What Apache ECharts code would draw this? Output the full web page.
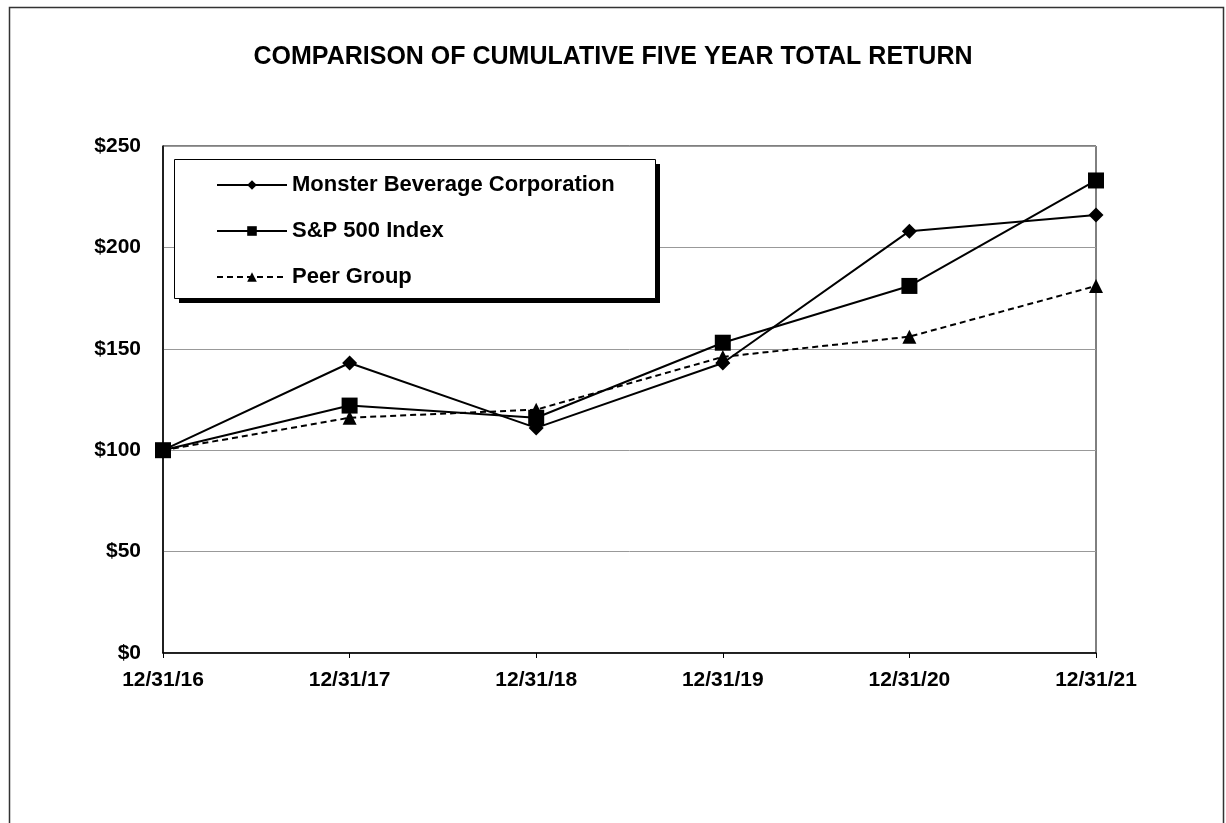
<!DOCTYPE html>
<html>
<head>
<meta charset="utf-8">
<script src="https://cdn.jsdelivr.net/npm/echarts@6/dist/echarts.min.js"></script>
<style>html,body{margin:0;padding:0;background:#fff;}#c{width:1226px;height:823px;}</style>
</head>
<body>
<div id="c"></div>
<script>
const categories = ['12/31/16','12/31/17','12/31/18','12/31/19','12/31/20','12/31/21'];
const monster = [100, 143, 111, 143, 208, 216];
const sp500 = [100, 122, 116, 153, 181, 233];
const peer = [100, 116, 120, 146, 156, 181];
const yTicks = ['$0','$50','$100','$150','$200','$250'];
const seriesNames = ['Monster Beverage Corporation','S&P 500 Index','Peer Group'];

const chart = echarts.init(document.getElementById('c'), null, {renderer:'canvas'});
const font = 'Liberation Sans, Arial, sans-serif';
chart.setOption({
  backgroundColor:'#fff',
  animation:false,
  title:{
    text:'COMPARISON OF CUMULATIVE FIVE YEAR TOTAL RETURN',
    left:'center', top:40,
    textStyle:{fontFamily:font,fontWeight:'bold',fontSize:25,color:'#000'}
  },
  graphic:[
    {type:'rect',left:7,top:5,shape:{width:1214,height:830},style:{fill:null,stroke:'#333',lineWidth:1.5},silent:true,z:-1},
    {type:'rect',left:179,top:164,shape:{width:481,height:139},style:{fill:'#000'},z:10},
    {type:'rect',left:174,top:159,shape:{width:481,height:139},style:{fill:'#fff',stroke:'#000',lineWidth:1},z:11}
  ],
  legend:{
    orient:'vertical', left:211, top:169, itemGap:24,
    itemWidth:70, itemHeight:12, z:20,
    textStyle:{fontFamily:font,fontWeight:'bold',fontSize:22,color:'#000'},
    data:seriesNames
  },
  grid:{left:163,right:130,top:146,bottom:170,show:true,borderColor:'#000',borderWidth:1},
  xAxis:{
    type:'category', data:categories, boundaryGap:false,
    axisLine:{lineStyle:{color:'#000',width:1.5}},
    axisTick:{show:true,length:5,lineStyle:{color:'#000'}},
    axisLabel:{fontFamily:font,fontWeight:'bold',fontSize:21,color:'#000',margin:17}
  },
  yAxis:{
    type:'value', min:0, max:250, interval:50,
    axisLine:{show:true,lineStyle:{color:'#000',width:1.5}},
    axisTick:{show:false},
    splitLine:{lineStyle:{color:'#999',width:1}},
    axisLabel:{fontFamily:font,fontWeight:'bold',fontSize:21,color:'#000',margin:22,
      formatter:function(v){return yTicks[Math.round(v/50)];}}
  },
  series:[
    {name:seriesNames[0],type:'line',data:monster,symbol:'diamond',symbolSize:15,
      lineStyle:{color:'#000',width:2},itemStyle:{color:'#000'}},
    {name:seriesNames[1],type:'line',data:sp500,symbol:'rect',symbolSize:16,
      lineStyle:{color:'#000',width:2},itemStyle:{color:'#000'}},
    {name:seriesNames[2],type:'line',data:peer,symbol:'triangle',symbolSize:14,
      lineStyle:{color:'#000',width:2,type:[6,4]},itemStyle:{color:'#000'}}
  ]
});
</script>
</body>
</html>
